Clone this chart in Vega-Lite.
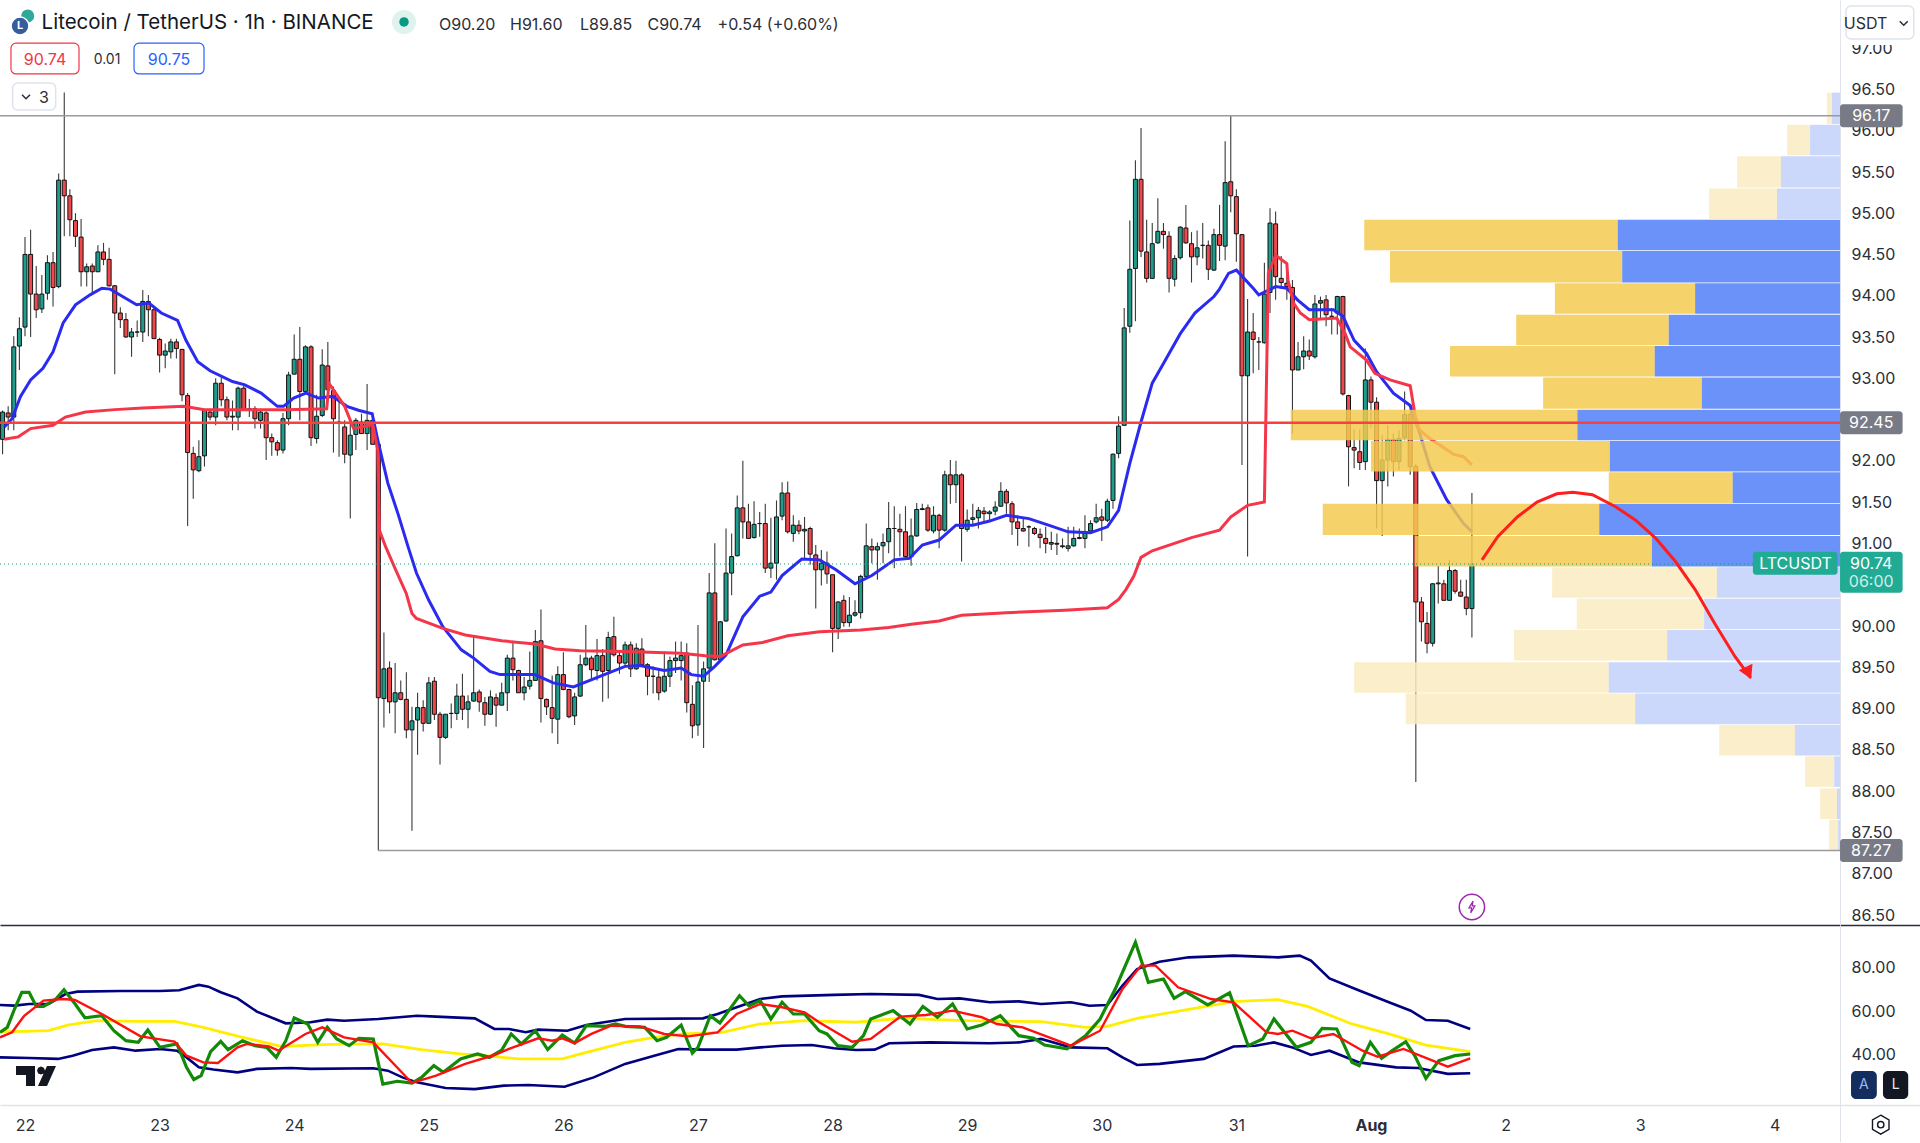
{
  "$schema": "https://vega.github.io/schema/vega-lite/v6.json",
  "description": "LTCUSDT 1h candles with volume profile and RSI pane",
  "background": "white",
  "padding": {"left": -7, "top": 0, "right": 0, "bottom": 0},
  "spacing": 0,
  "bounds": "flush",
  "config": {
    "view": {"stroke": null},
    "text": {"font": "Inter"},
    "axis": {"labelFont": "Inter", "labelFontSize": 16, "labelColor": "#2a2e39", "grid": false, "ticks": false}
  },
  "datasets": {
    "candles": [
      {"t":-4,"o":92.25,"h":92.6,"l":92.07,"c":92.58},{"t":-3,"o":92.57,"h":92.65,"l":92.36,"c":92.52},{"t":-2,"o":92.52,"h":93.5,"l":92.36,"c":93.37},{"t":-1,"o":93.38,"h":93.73,"l":93.09,"c":93.59},
      {"t":0,"o":93.61,"h":94.7,"l":93.5,"c":94.49},{"t":1,"o":94.49,"h":94.79,"l":93.49,"c":94.01},{"t":2,"o":94.01,"h":94.35,"l":93.72,"c":93.82},{"t":3,"o":93.83,"h":94.24,"l":93.78,"c":94.01},
      {"t":4,"o":94.02,"h":94.48,"l":93.94,"c":94.39},{"t":5,"o":94.39,"h":94.52,"l":93.86,"c":94.09},{"t":6,"o":94.1,"h":95.47,"l":94.08,"c":95.39},{"t":7,"o":95.39,"h":96.45,"l":94.71,"c":95.2},
      {"t":8,"o":95.2,"h":95.28,"l":94.71,"c":94.91},{"t":9,"o":94.9,"h":94.99,"l":94.58,"c":94.71},{"t":10,"o":94.7,"h":94.92,"l":94.1,"c":94.28},{"t":11,"o":94.28,"h":94.38,"l":94.1,"c":94.34},
      {"t":12,"o":94.35,"h":94.38,"l":94.02,"c":94.28},{"t":13,"o":94.28,"h":94.6,"l":94.28,"c":94.52},{"t":14,"o":94.52,"h":94.63,"l":94.36,"c":94.43},{"t":15,"o":94.43,"h":94.57,"l":94.1,"c":94.11},
      {"t":16,"o":94.11,"h":94.12,"l":93.04,"c":93.78},{"t":17,"o":93.78,"h":93.85,"l":93.6,"c":93.7},{"t":18,"o":93.7,"h":93.78,"l":93.48,"c":93.49},{"t":19,"o":93.49,"h":93.6,"l":93.25,"c":93.55},
      {"t":20,"o":93.55,"h":93.69,"l":93.49,"c":93.55},{"t":21,"o":93.55,"h":94.06,"l":93.43,"c":93.92},{"t":22,"o":93.92,"h":94.0,"l":93.5,"c":93.82},{"t":23,"o":93.82,"h":93.84,"l":93.47,"c":93.47},
      {"t":24,"o":93.46,"h":93.48,"l":93.06,"c":93.27},{"t":25,"o":93.27,"h":93.41,"l":93.11,"c":93.32},{"t":26,"o":93.31,"h":93.47,"l":93.23,"c":93.43},{"t":27,"o":93.43,"h":93.47,"l":93.23,"c":93.35},
      {"t":28,"o":93.34,"h":93.34,"l":92.71,"c":92.79},{"t":29,"o":92.78,"h":92.81,"l":91.2,"c":92.09},{"t":30,"o":92.08,"h":92.16,"l":91.53,"c":91.88},{"t":31,"o":91.87,"h":92.24,"l":91.85,"c":92.04},
      {"t":32,"o":92.05,"h":92.61,"l":91.92,"c":92.6},{"t":33,"o":92.58,"h":92.62,"l":92.48,"c":92.52},{"t":34,"o":92.52,"h":92.99,"l":92.42,"c":92.93},{"t":35,"o":92.93,"h":93.0,"l":92.65,"c":92.73},
      {"t":36,"o":92.73,"h":92.77,"l":92.48,"c":92.52},{"t":37,"o":92.53,"h":92.72,"l":92.36,"c":92.52},{"t":38,"o":92.52,"h":92.89,"l":92.36,"c":92.87},{"t":39,"o":92.87,"h":92.92,"l":92.6,"c":92.6},
      {"t":40,"o":92.6,"h":92.74,"l":92.52,"c":92.62},{"t":41,"o":92.62,"h":92.65,"l":92.38,"c":92.5},{"t":42,"o":92.48,"h":92.62,"l":92.38,"c":92.58},{"t":43,"o":92.57,"h":92.59,"l":92.0,"c":92.27},
      {"t":44,"o":92.27,"h":92.32,"l":92.05,"c":92.22},{"t":45,"o":92.21,"h":92.24,"l":92.05,"c":92.12},{"t":46,"o":92.12,"h":92.57,"l":92.08,"c":92.5},{"t":47,"o":92.5,"h":93.07,"l":92.42,"c":93.03},
      {"t":48,"o":93.04,"h":93.52,"l":93.04,"c":93.22},{"t":49,"o":93.22,"h":93.61,"l":92.48,"c":92.83},{"t":50,"o":92.83,"h":93.39,"l":92.82,"c":93.37},{"t":51,"o":93.37,"h":93.39,"l":92.17,"c":92.27},
      {"t":52,"o":92.26,"h":92.79,"l":92.2,"c":92.53},{"t":53,"o":92.54,"h":93.34,"l":92.52,"c":93.15},{"t":54,"o":93.14,"h":93.43,"l":92.83,"c":92.85},{"t":55,"o":92.84,"h":92.89,"l":92.09,"c":92.5},
      {"t":56,"o":92.46,"h":92.72,"l":92.04,"c":92.45},{"t":57,"o":92.4,"h":92.48,"l":91.96,"c":92.07},{"t":58,"o":92.06,"h":92.48,"l":91.29,"c":92.3},{"t":59,"o":92.31,"h":92.51,"l":92.12,"c":92.48},
      {"t":60,"o":92.46,"h":92.56,"l":92.32,"c":92.32},{"t":61,"o":92.32,"h":92.92,"l":92.12,"c":92.48},{"t":62,"o":92.48,"h":92.57,"l":92.19,"c":92.19},{"t":63,"o":92.19,"h":92.2,"l":87.27,"c":89.12},
      {"t":64,"o":89.11,"h":89.91,"l":88.76,"c":89.47},{"t":65,"o":89.48,"h":89.56,"l":88.93,"c":89.07},{"t":66,"o":89.07,"h":89.54,"l":88.69,"c":89.18},{"t":67,"o":89.18,"h":89.33,"l":89.09,"c":89.1},
      {"t":68,"o":89.1,"h":89.43,"l":88.63,"c":88.73},{"t":69,"o":88.73,"h":89.01,"l":87.51,"c":88.84},{"t":70,"o":88.85,"h":89.18,"l":88.43,"c":89.0},{"t":71,"o":89.0,"h":89.09,"l":88.71,"c":88.81},
      {"t":72,"o":88.81,"h":89.37,"l":88.81,"c":89.3},{"t":73,"o":89.32,"h":89.37,"l":88.85,"c":88.92},{"t":74,"o":88.92,"h":88.95,"l":88.31,"c":88.64},{"t":75,"o":88.64,"h":88.92,"l":88.62,"c":88.92},
      {"t":76,"o":88.93,"h":89.05,"l":88.75,"c":88.93},{"t":77,"o":88.93,"h":89.29,"l":88.85,"c":89.14},{"t":78,"o":89.14,"h":89.41,"l":88.85,"c":88.98},{"t":79,"o":88.98,"h":89.15,"l":88.75,"c":89.07},
      {"t":80,"o":89.08,"h":89.88,"l":89.07,"c":89.18},{"t":81,"o":89.19,"h":89.22,"l":88.95,"c":89.07},{"t":82,"o":89.06,"h":89.13,"l":88.78,"c":88.92},{"t":83,"o":88.92,"h":89.21,"l":88.91,"c":89.13},
      {"t":84,"o":89.12,"h":89.17,"l":88.77,"c":89.03},{"t":85,"o":89.03,"h":89.3,"l":89.03,"c":89.18},{"t":86,"o":89.18,"h":89.64,"l":88.96,"c":89.6},{"t":87,"o":89.6,"h":89.81,"l":89.33,"c":89.46},
      {"t":88,"o":89.45,"h":89.46,"l":89.18,"c":89.18},{"t":89,"o":89.18,"h":89.37,"l":89.09,"c":89.25},{"t":90,"o":89.26,"h":89.68,"l":89.22,"c":89.33},{"t":91,"o":89.33,"h":89.94,"l":89.33,"c":89.8},
      {"t":92,"o":89.81,"h":90.19,"l":88.82,"c":89.11},{"t":93,"o":89.1,"h":89.11,"l":88.91,"c":89.01},{"t":94,"o":89.0,"h":89.39,"l":88.69,"c":88.87},{"t":95,"o":88.86,"h":89.5,"l":88.56,"c":89.4},
      {"t":96,"o":89.4,"h":89.67,"l":89.21,"c":89.22},{"t":97,"o":89.22,"h":89.23,"l":88.87,"c":88.89},{"t":98,"o":88.9,"h":89.18,"l":88.79,"c":89.13},{"t":99,"o":89.14,"h":89.64,"l":89.13,"c":89.52},
      {"t":100,"o":89.52,"h":90.0,"l":89.5,"c":89.6},{"t":101,"o":89.6,"h":89.63,"l":89.33,"c":89.46},{"t":102,"o":89.45,"h":89.83,"l":89.33,"c":89.63},{"t":103,"o":89.63,"h":89.71,"l":89.07,"c":89.44},
      {"t":104,"o":89.45,"h":89.92,"l":89.11,"c":89.85},{"t":105,"o":89.86,"h":90.1,"l":89.62,"c":89.64},{"t":106,"o":89.63,"h":89.68,"l":89.41,"c":89.54},{"t":107,"o":89.54,"h":89.8,"l":89.5,"c":89.76},
      {"t":108,"o":89.76,"h":89.8,"l":89.37,"c":89.47},{"t":109,"o":89.47,"h":89.78,"l":89.46,"c":89.72},{"t":110,"o":89.71,"h":89.84,"l":89.5,"c":89.52},{"t":111,"o":89.52,"h":89.54,"l":89.15,"c":89.38},
      {"t":112,"o":89.38,"h":89.5,"l":89.17,"c":89.38},{"t":113,"o":89.37,"h":89.46,"l":89.09,"c":89.18},{"t":114,"o":89.2,"h":89.68,"l":89.18,"c":89.38},{"t":115,"o":89.38,"h":89.62,"l":89.25,"c":89.57},
      {"t":116,"o":89.57,"h":89.8,"l":89.42,"c":89.6},{"t":117,"o":89.57,"h":89.8,"l":89.33,"c":89.63},{"t":118,"o":89.66,"h":89.78,"l":88.94,"c":89.06},{"t":119,"o":89.04,"h":89.27,"l":88.63,"c":88.78},
      {"t":120,"o":88.79,"h":90.0,"l":88.66,"c":89.31},{"t":121,"o":89.32,"h":89.56,"l":88.51,"c":89.47},{"t":122,"o":89.48,"h":90.63,"l":89.31,"c":90.39},{"t":123,"o":90.39,"h":90.99,"l":89.57,"c":89.58},
      {"t":124,"o":89.58,"h":90.05,"l":89.57,"c":90.04},{"t":125,"o":90.05,"h":91.17,"l":90.04,"c":90.63},{"t":126,"o":90.63,"h":91.11,"l":90.36,"c":90.83},{"t":127,"o":90.84,"h":91.57,"l":90.83,"c":91.42},
      {"t":128,"o":91.42,"h":91.99,"l":91.05,"c":91.25},{"t":129,"o":91.25,"h":91.47,"l":91.05,"c":91.05},{"t":130,"o":91.06,"h":91.5,"l":91.05,"c":91.22},{"t":131,"o":91.23,"h":91.37,"l":91.07,"c":91.23},
      {"t":132,"o":91.23,"h":91.47,"l":90.63,"c":90.69},{"t":133,"o":90.69,"h":91.3,"l":90.57,"c":90.75},{"t":134,"o":90.75,"h":91.51,"l":90.55,"c":91.31},{"t":135,"o":91.32,"h":91.73,"l":91.27,"c":91.6},
      {"t":136,"o":91.6,"h":91.74,"l":91.11,"c":91.13},{"t":137,"o":91.11,"h":91.33,"l":91.01,"c":91.21},{"t":138,"o":91.21,"h":91.27,"l":91.1,"c":91.14},{"t":139,"o":91.14,"h":91.31,"l":90.79,"c":91.16},
      {"t":140,"o":91.17,"h":91.19,"l":90.73,"c":90.86},{"t":141,"o":90.85,"h":90.97,"l":90.2,"c":90.67},{"t":142,"o":90.67,"h":90.91,"l":90.48,"c":90.75},{"t":143,"o":90.75,"h":90.89,"l":90.5,"c":90.62},
      {"t":144,"o":90.61,"h":90.61,"l":89.67,"c":89.96},{"t":145,"o":89.96,"h":90.29,"l":89.83,"c":90.28},{"t":146,"o":90.3,"h":90.36,"l":89.98,"c":90.03},{"t":147,"o":90.03,"h":90.34,"l":89.98,"c":90.12},
      {"t":148,"o":90.12,"h":90.3,"l":90.1,"c":90.15},{"t":149,"o":90.15,"h":90.61,"l":90.08,"c":90.59},{"t":150,"o":90.59,"h":91.23,"l":90.59,"c":90.96},{"t":151,"o":90.95,"h":91.05,"l":90.75,"c":90.91},
      {"t":152,"o":90.91,"h":91.0,"l":90.55,"c":90.95},{"t":153,"o":90.96,"h":91.11,"l":90.75,"c":91.0},{"t":154,"o":91.01,"h":91.49,"l":90.87,"c":91.17},{"t":155,"o":91.17,"h":91.44,"l":90.69,"c":91.17},
      {"t":156,"o":91.16,"h":91.35,"l":90.83,"c":91.13},{"t":157,"o":91.13,"h":91.44,"l":90.81,"c":90.83},{"t":158,"o":90.83,"h":91.29,"l":90.72,"c":91.08},{"t":159,"o":91.08,"h":91.48,"l":91.07,"c":91.4},
      {"t":160,"o":91.4,"h":91.47,"l":91.39,"c":91.41},{"t":161,"o":91.42,"h":91.46,"l":91.13,"c":91.15},{"t":162,"o":91.14,"h":91.44,"l":91.11,"c":91.33},{"t":163,"o":91.33,"h":91.35,"l":90.93,"c":91.15},
      {"t":164,"o":91.15,"h":91.87,"l":91.13,"c":91.82},{"t":165,"o":91.82,"h":92.0,"l":91.47,"c":91.7},{"t":166,"o":91.7,"h":91.99,"l":91.48,"c":91.82},{"t":167,"o":91.82,"h":91.84,"l":90.77,"c":91.17},
      {"t":168,"o":91.16,"h":91.4,"l":91.13,"c":91.27},{"t":169,"o":91.28,"h":91.47,"l":91.2,"c":91.3},{"t":170,"o":91.3,"h":91.43,"l":91.17,"c":91.39},{"t":171,"o":91.38,"h":91.43,"l":91.24,"c":91.35},
      {"t":172,"o":91.35,"h":91.39,"l":91.27,"c":91.37},{"t":173,"o":91.38,"h":91.5,"l":91.33,"c":91.43},{"t":174,"o":91.44,"h":91.73,"l":91.43,"c":91.62},{"t":175,"o":91.62,"h":91.65,"l":91.35,"c":91.48},
      {"t":176,"o":91.47,"h":91.5,"l":91.09,"c":91.25},{"t":177,"o":91.25,"h":91.33,"l":90.96,"c":91.17},{"t":178,"o":91.17,"h":91.31,"l":91.13,"c":91.14},{"t":179,"o":91.19,"h":91.21,"l":90.95,"c":91.19},
      {"t":180,"o":91.17,"h":91.19,"l":91.09,"c":91.11},{"t":181,"o":91.1,"h":91.17,"l":90.93,"c":91.06},{"t":182,"o":91.05,"h":91.19,"l":90.87,"c":90.99},{"t":183,"o":91.0,"h":91.13,"l":90.91,"c":90.98},
      {"t":184,"o":90.99,"h":91.11,"l":90.85,"c":90.98},{"t":185,"o":90.96,"h":91.05,"l":90.93,"c":90.95},{"t":186,"o":90.93,"h":91.19,"l":90.89,"c":90.96},{"t":187,"o":90.96,"h":91.19,"l":90.95,"c":91.05},
      {"t":188,"o":91.05,"h":91.17,"l":91.04,"c":91.06},{"t":189,"o":91.05,"h":91.33,"l":90.93,"c":91.13},{"t":190,"o":91.14,"h":91.27,"l":91.13,"c":91.23},{"t":191,"o":91.25,"h":91.47,"l":91.23,"c":91.3},
      {"t":192,"o":91.31,"h":91.41,"l":91.02,"c":91.27},{"t":193,"o":91.27,"h":91.53,"l":91.25,"c":91.5},{"t":194,"o":91.51,"h":92.08,"l":91.41,"c":92.07},{"t":195,"o":92.08,"h":92.53,"l":92.02,"c":92.41},
      {"t":196,"o":92.42,"h":93.84,"l":92.42,"c":93.6},{"t":197,"o":93.62,"h":94.9,"l":93.54,"c":94.31},{"t":198,"o":94.32,"h":95.63,"l":93.68,"c":95.4},{"t":199,"o":95.4,"h":96.02,"l":94.46,"c":94.53},
      {"t":200,"o":94.52,"h":94.91,"l":94.15,"c":94.2},{"t":201,"o":94.2,"h":94.87,"l":94.2,"c":94.62},{"t":202,"o":94.63,"h":95.17,"l":94.62,"c":94.77},{"t":203,"o":94.77,"h":94.87,"l":94.56,"c":94.73},
      {"t":204,"o":94.71,"h":94.77,"l":94.03,"c":94.2},{"t":205,"o":94.19,"h":94.48,"l":94.1,"c":94.44},{"t":206,"o":94.45,"h":94.83,"l":94.43,"c":94.82},{"t":207,"o":94.81,"h":95.09,"l":94.62,"c":94.63},
      {"t":208,"o":94.62,"h":94.76,"l":94.15,"c":94.46},{"t":209,"o":94.46,"h":94.78,"l":94.36,"c":94.57},{"t":210,"o":94.6,"h":94.87,"l":94.44,"c":94.6},{"t":211,"o":94.6,"h":94.66,"l":94.18,"c":94.31},
      {"t":212,"o":94.3,"h":94.8,"l":94.29,"c":94.73},{"t":213,"o":94.73,"h":95.09,"l":94.41,"c":94.6},{"t":214,"o":94.59,"h":95.86,"l":94.42,"c":95.36},{"t":215,"o":95.37,"h":96.17,"l":95.0,"c":95.2},
      {"t":216,"o":95.19,"h":95.28,"l":94.4,"c":94.74},{"t":217,"o":94.73,"h":94.73,"l":91.94,"c":93.02},{"t":218,"o":93.02,"h":93.95,"l":90.83,"c":93.55},{"t":219,"o":93.55,"h":93.78,"l":93.05,"c":93.46},
      {"t":220,"o":93.43,"h":93.49,"l":93.09,"c":93.43},{"t":221,"o":93.42,"h":94.39,"l":93.41,"c":94.01},{"t":222,"o":94.03,"h":95.05,"l":93.78,"c":94.87},{"t":223,"o":94.86,"h":95.01,"l":93.94,"c":94.22},
      {"t":224,"o":94.2,"h":94.47,"l":94.07,"c":94.15},{"t":225,"o":94.14,"h":94.3,"l":93.94,"c":94.1},{"t":226,"o":94.09,"h":94.18,"l":92.32,"c":93.09},{"t":227,"o":93.09,"h":93.43,"l":93.09,"c":93.25},
      {"t":228,"o":93.25,"h":93.5,"l":93.1,"c":93.32},{"t":229,"o":93.32,"h":93.46,"l":93.21,"c":93.26},{"t":230,"o":93.25,"h":94.0,"l":93.23,"c":93.89},{"t":231,"o":93.9,"h":93.98,"l":93.7,"c":93.93},
      {"t":232,"o":93.94,"h":94.0,"l":93.62,"c":93.76},{"t":233,"o":93.74,"h":93.84,"l":93.52,"c":93.74},{"t":234,"o":93.78,"h":93.99,"l":93.52,"c":93.98},{"t":235,"o":93.98,"h":93.99,"l":92.78,"c":92.8},
      {"t":236,"o":92.78,"h":92.79,"l":91.68,"c":92.16},{"t":237,"o":92.15,"h":92.37,"l":91.9,"c":92.12},{"t":238,"o":92.1,"h":92.37,"l":91.88,"c":91.97},{"t":239,"o":91.98,"h":93.35,"l":91.88,"c":92.97},
      {"t":240,"o":92.97,"h":93.01,"l":92.38,"c":92.7},{"t":241,"o":92.7,"h":92.76,"l":91.17,"c":91.75},{"t":242,"o":91.75,"h":92.3,"l":91.08,"c":92.0},{"t":243,"o":92.0,"h":92.42,"l":91.68,"c":92.25},
      {"t":244,"o":92.25,"h":92.32,"l":91.8,"c":91.98},{"t":245,"o":91.98,"h":92.36,"l":91.88,"c":92.26},{"t":246,"o":92.27,"h":92.83,"l":92.24,"c":92.55},{"t":247,"o":92.55,"h":92.65,"l":91.82,"c":91.92},
      {"t":248,"o":91.92,"h":91.95,"l":88.1,"c":90.28},{"t":249,"o":90.28,"h":90.34,"l":89.8,"c":90.04},{"t":250,"o":90.02,"h":90.16,"l":89.66,"c":89.78},{"t":251,"o":89.78,"h":90.51,"l":89.74,"c":90.5},
      {"t":252,"o":90.5,"h":90.72,"l":90.26,"c":90.51},{"t":253,"o":90.5,"h":90.55,"l":90.3,"c":90.3},{"t":254,"o":90.3,"h":90.79,"l":90.3,"c":90.66},{"t":255,"o":90.66,"h":90.68,"l":90.38,"c":90.41},
      {"t":256,"o":90.4,"h":90.55,"l":90.34,"c":90.35},{"t":257,"o":90.34,"h":90.55,"l":90.12,"c":90.2},{"t":258,"o":90.2,"h":91.6,"l":89.85,"c":90.74}
    ],
    "ema": [
      {"t":-3.7,"p":92.4},{"t":-2.3,"p":92.5},{"t":-0.8,"p":92.77},{"t":1,"p":92.97},{"t":3.2,"p":93.11},{"t":5,"p":93.31},{"t":6.8,"p":93.66},{"t":9,"p":93.88},{"t":11.6,"p":94.0},{"t":13.7,"p":94.08},{"t":15.2,"p":94.07},{"t":17.4,"p":93.98},{"t":19.9,"p":93.88},{"t":22.1,"p":93.9},{"t":24.3,"p":93.78},{"t":27.2,"p":93.69},{"t":28.7,"p":93.45},{"t":30.8,"p":93.19},{"t":33,"p":93.08},{"t":37,"p":92.95},{"t":39.2,"p":92.91},{"t":42.1,"p":92.81},{"t":45,"p":92.65},{"t":46.1,"p":92.65},{"t":47.9,"p":92.75},{"t":50.1,"p":92.81},{"t":52.3,"p":92.75},{"t":54.9,"p":92.77},{"t":57.4,"p":92.65},{"t":59.6,"p":92.6},{"t":61.9,"p":92.56},{"t":62.9,"p":92.24},
      {"t":64.7,"p":91.72},{"t":66.5,"p":91.35},{"t":68.3,"p":90.95},{"t":69.8,"p":90.63},{"t":72,"p":90.3},{"t":74.5,"p":89.98},{"t":77.8,"p":89.7},{"t":80,"p":89.6},{"t":82.9,"p":89.44},{"t":84.7,"p":89.4},{"t":88,"p":89.4},{"t":90.9,"p":89.4},{"t":94.2,"p":89.3},{"t":97.8,"p":89.25},{"t":99.6,"p":89.3},{"t":103.3,"p":89.4},{"t":107,"p":89.5},{"t":109.7,"p":89.51},{"t":111.8,"p":89.48},{"t":114,"p":89.45},{"t":117,"p":89.48},{"t":118.8,"p":89.4},{"t":121,"p":89.38},{"t":123,"p":89.5},{"t":125,"p":89.64},{"t":128,"p":90.1},{"t":131,"p":90.35},{"t":133,"p":90.4},{"t":135,"p":90.6},{"t":138.5,"p":90.8},{"t":141.7,"p":90.79},{"t":144.6,"p":90.67},{"t":148,"p":90.5},{"t":151,"p":90.6},{"t":155,"p":90.79},{"t":157.7,"p":90.81},{"t":160,"p":90.97},{"t":163,"p":91.03},{"t":166,"p":91.21},{"t":169,"p":91.21},{"t":172,"p":91.26},{"t":175,"p":91.33},{"t":179,"p":91.29},{"t":182.5,"p":91.21},{"t":186,"p":91.13},{"t":190,"p":91.12},{"t":193,"p":91.19},{"t":195,"p":91.39},
      {"t":197,"p":91.96},{"t":199,"p":92.46},{"t":201,"p":92.93},{"t":203,"p":93.17},{"t":206,"p":93.53},{"t":208.6,"p":93.78},{"t":212,"p":93.98},{"t":212.9,"p":94.06},{"t":214.6,"p":94.26},{"t":216,"p":94.3},{"t":219,"p":94.08},{"t":220,"p":94.0},{"t":223,"p":94.1},{"t":225,"p":94.08},{"t":226.9,"p":93.94},{"t":229,"p":93.82},{"t":233.3,"p":93.82},{"t":235,"p":93.74},{"t":237,"p":93.45},{"t":239.2,"p":93.29},{"t":241,"p":93.07},{"t":244,"p":92.81},{"t":247,"p":92.66},{"t":248.7,"p":92.32},{"t":250.5,"p":91.92},{"t":253.5,"p":91.52},{"t":256.5,"p":91.23},{"t":258,"p":91.13}
    ],
    "vwap": [
      {"t":-3.7,"p":92.25},{"t":-1.2,"p":92.28},{"t":1,"p":92.38},{"t":5,"p":92.42},{"t":7.2,"p":92.52},{"t":10.8,"p":92.58},{"t":16,"p":92.61},{"t":21,"p":92.63},{"t":28.3,"p":92.65},{"t":32,"p":92.61},{"t":36.3,"p":92.61},{"t":46.5,"p":92.61},{"t":53.8,"p":92.62},{"t":54.2,"p":92.93},{"t":57,"p":92.65},{"t":58.6,"p":92.38},{"t":62,"p":92.43},{"t":62.9,"p":92.12},{"t":63.2,"p":91.15},{"t":64.3,"p":90.95},{"t":66.1,"p":90.67},{"t":68,"p":90.38},{"t":69,"p":90.14},{"t":69.8,"p":90.08},{"t":74.5,"p":89.96},{"t":78.5,"p":89.88},{"t":85,"p":89.81},{"t":91,"p":89.77},{"t":94.5,"p":89.71},{"t":99,"p":89.69},{"t":107,"p":89.68},{"t":117,"p":89.66},{"t":121.3,"p":89.63},{"t":124,"p":89.62},{"t":128,"p":89.76},{"t":131.5,"p":89.79},{"t":136,"p":89.87},{"t":141.7,"p":89.92},{"t":149,"p":89.94},{"t":154,"p":89.97},{"t":158,"p":90.01},{"t":163,"p":90.05},{"t":167,"p":90.12},{"t":175,"p":90.15},{"t":185.4,"p":90.18},{"t":193,"p":90.21},{"t":195,"p":90.31},{"t":196.3,"p":90.43},{"t":197.7,"p":90.59},{"t":199,"p":90.82},{"t":201,"p":90.9},{"t":208,"p":91.06},{"t":213,"p":91.15},{"t":215,"p":91.31},{"t":218,"p":91.45},{"t":221,"p":91.49},{"t":221.7,"p":94.26},{"t":223,"p":94.48},{"t":225,"p":94.38},{"t":225.2,"p":94.18},{"t":226.2,"p":93.9},{"t":227.4,"p":93.78},{"t":229,"p":93.7},{"t":233.9,"p":93.72},{"t":235.4,"p":93.53},{"t":236.3,"p":93.37},{"t":239.2,"p":93.21},{"t":240.7,"p":93.05},{"t":243.4,"p":92.97},{"t":247,"p":92.9},{"t":247.9,"p":92.53},{"t":248.7,"p":92.36},{"t":250.5,"p":92.26},{"t":252.3,"p":92.18},{"t":254.7,"p":92.07},{"t":256.5,"p":92.04},{"t":258,"p":91.94}
    ],
    "profile": [
      {"lo":87.27,"hi":87.64,"x0":321.7,"x1":323.3,"zone":"up-out"},{"lo":87.27,"hi":87.64,"x0":323.3,"x1":323.64,"zone":"down-out"},
      {"lo":87.65,"hi":88.02,"x0":320.1,"x1":323.1,"zone":"up-out"},{"lo":87.65,"hi":88.02,"x0":323.1,"x1":323.64,"zone":"down-out"},
      {"lo":88.04,"hi":88.41,"x0":317.4,"x1":322.6,"zone":"up-out"},{"lo":88.04,"hi":88.41,"x0":322.6,"x1":323.64,"zone":"down-out"},
      {"lo":88.42,"hi":88.79,"x0":302.1,"x1":315.6,"zone":"up-out"},{"lo":88.42,"hi":88.79,"x0":315.6,"x1":323.64,"zone":"down-out"},
      {"lo":88.8,"hi":89.17,"x0":246.2,"x1":287.1,"zone":"up-out"},{"lo":88.8,"hi":89.17,"x0":287.1,"x1":323.64,"zone":"down-out"},
      {"lo":89.18,"hi":89.55,"x0":237.0,"x1":282.4,"zone":"up-out"},{"lo":89.18,"hi":89.55,"x0":282.4,"x1":323.64,"zone":"down-out"},
      {"lo":89.57,"hi":89.94,"x0":265.5,"x1":292.8,"zone":"up-out"},{"lo":89.57,"hi":89.94,"x0":292.8,"x1":323.64,"zone":"down-out"},
      {"lo":89.95,"hi":90.32,"x0":276.7,"x1":299.4,"zone":"up-out"},{"lo":89.95,"hi":90.32,"x0":299.4,"x1":323.64,"zone":"down-out"},
      {"lo":90.33,"hi":90.7,"x0":272.3,"x1":301.7,"zone":"up-out"},{"lo":90.33,"hi":90.7,"x0":301.7,"x1":323.64,"zone":"down-out"},
      {"lo":90.71,"hi":91.08,"x0":247.8,"x1":290.1,"zone":"up-in"},{"lo":90.71,"hi":91.08,"x0":290.1,"x1":323.64,"zone":"down-in"},
      {"lo":91.09,"hi":91.47,"x0":231.4,"x1":280.7,"zone":"up-in"},{"lo":91.09,"hi":91.47,"x0":280.7,"x1":323.64,"zone":"down-in"},
      {"lo":91.48,"hi":91.85,"x0":282.4,"x1":304.5,"zone":"up-in"},{"lo":91.48,"hi":91.85,"x0":304.5,"x1":323.64,"zone":"down-in"},
      {"lo":91.86,"hi":92.23,"x0":240.0,"x1":282.6,"zone":"up-in"},{"lo":91.86,"hi":92.23,"x0":282.6,"x1":323.64,"zone":"down-in"},
      {"lo":92.24,"hi":92.61,"x0":225.7,"x1":276.8,"zone":"up-in"},{"lo":92.24,"hi":92.61,"x0":276.8,"x1":323.64,"zone":"down-in"},
      {"lo":92.62,"hi":93.0,"x0":270.7,"x1":299.0,"zone":"up-in"},{"lo":92.62,"hi":93.0,"x0":299.0,"x1":323.64,"zone":"down-in"},
      {"lo":93.01,"hi":93.38,"x0":254.1,"x1":290.6,"zone":"up-in"},{"lo":93.01,"hi":93.38,"x0":290.6,"x1":323.64,"zone":"down-in"},
      {"lo":93.39,"hi":93.76,"x0":265.9,"x1":293.1,"zone":"up-in"},{"lo":93.39,"hi":93.76,"x0":293.1,"x1":323.64,"zone":"down-in"},
      {"lo":93.77,"hi":94.14,"x0":272.8,"x1":297.8,"zone":"up-in"},{"lo":93.77,"hi":94.14,"x0":297.8,"x1":323.64,"zone":"down-in"},
      {"lo":94.15,"hi":94.53,"x0":243.4,"x1":284.8,"zone":"up-in"},{"lo":94.15,"hi":94.53,"x0":284.8,"x1":323.64,"zone":"down-in"},
      {"lo":94.54,"hi":94.91,"x0":238.8,"x1":284.0,"zone":"up-in"},{"lo":94.54,"hi":94.91,"x0":284.0,"x1":323.64,"zone":"down-in"},
      {"lo":94.92,"hi":95.29,"x0":300.3,"x1":312.4,"zone":"up-out"},{"lo":94.92,"hi":95.29,"x0":312.4,"x1":323.64,"zone":"down-out"},
      {"lo":95.3,"hi":95.68,"x0":305.3,"x1":313.1,"zone":"up-out"},{"lo":95.3,"hi":95.68,"x0":313.1,"x1":323.64,"zone":"down-out"},
      {"lo":95.69,"hi":96.06,"x0":314.2,"x1":318.3,"zone":"up-out"},{"lo":95.69,"hi":96.06,"x0":318.3,"x1":323.64,"zone":"down-out"},
      {"lo":96.07,"hi":96.45,"x0":321.3,"x1":322.2,"zone":"up-out"},{"lo":96.07,"hi":96.45,"x0":322.2,"x1":323.64,"zone":"down-out"}
    ],
    "forecast": [
      {"t":259.8,"p":90.79},{"t":262.6,"p":91.07},{"t":266.1,"p":91.31},{"t":269.6,"p":91.49},{"t":273.15,"p":91.59},{"t":276,"p":91.61},{"t":279.5,"p":91.58},{"t":283.7,"p":91.43},{"t":287.2,"p":91.27},{"t":290.8,"p":91.05},{"t":294.3,"p":90.77},{"t":297.8,"p":90.43},{"t":301.3,"p":90.02},{"t":304.9,"p":89.62},{"t":307.7,"p":89.36}
    ],
    "rsi": [
      {"t":-4.46,"v":49.75},{"t":-3.16,"v":52.05},{"t":-1.87,"v":60.5},{"t":-0.57,"v":68.2},{"t":0.73,"v":68.2},{"t":2.02,"v":61.7},{"t":3.3,"v":61.7},{"t":5.5,"v":65.1},{"t":6.95,"v":69.4},{"t":8.94,"v":62.8},{"t":10.7,"v":56.4},{"t":13.7,"v":57.4},{"t":15.85,"v":50.5},{"t":18,"v":45.9},{"t":20.2,"v":45.15},{"t":21.9,"v":50.8},{"t":24.06,"v":42.85},{"t":27.1,"v":44.4},{"t":28.8,"v":33.6},{"t":30.1,"v":28},{"t":31.4,"v":29.8},{"t":33.1,"v":40.85},{"t":34.9,"v":45.6},{"t":36.2,"v":41.8},{"t":38.8,"v":45.9},{"t":41,"v":43.6},{"t":43.1,"v":42.85},{"t":44.8,"v":38.2},{"t":46.5,"v":45.9},{"t":48,"v":56.4},{"t":50.4,"v":53.6},{"t":52.2,"v":45.15},{"t":53.9,"v":52.05},{"t":55.6,"v":46.7},{"t":57.8,"v":43.6},{"t":59.5,"v":47},{"t":62.1,"v":46.7},{"t":63.8,"v":25.9},{"t":66.4,"v":27.2},{"t":69,"v":26.4},{"t":70.7,"v":29},{"t":72.9,"v":34.4},{"t":74.6,"v":31.3},{"t":77.65,"v":37.5},{"t":80.7,"v":39.8},{"t":82.8,"v":38.2},{"t":85,"v":41.6},{"t":86.7,"v":49},{"t":88.5,"v":44.4},{"t":91,"v":50.5},{"t":93.2,"v":41.8},{"t":95.8,"v":48.5},{"t":98,"v":44.8},{"t":100.1,"v":52.8},{"t":103.6,"v":52.5},{"t":105.3,"v":53.6},{"t":107,"v":52.5},{"t":110.5,"v":52.05},{"t":112.7,"v":45.9},{"t":114.4,"v":47.45},{"t":117,"v":53.1},{"t":119,"v":40.2},{"t":120,"v":42.85},{"t":122.2,"v":57.4},{"t":123.9,"v":54.05},{"t":127.4,"v":66.65},{"t":129.1,"v":62},{"t":131.1,"v":64.35},{"t":133,"v":55.9},{"t":135,"v":63.6},{"t":137,"v":58.2},{"t":139,"v":58.2},{"t":141.6,"v":50.5},{"t":143,"v":49},{"t":144.9,"v":43.6},{"t":147.5,"v":42.85},{"t":149.5,"v":48.2},{"t":150.8,"v":55.9},{"t":154.8,"v":59.75},{"t":157.8,"v":53.6},{"t":160.1,"v":61.7},{"t":162.7,"v":56.7},{"t":165.4,"v":62.8},{"t":168,"v":51.3},{"t":170.6,"v":53.1},{"t":173.9,"v":57.4},{"t":177.2,"v":48.2},{"t":179.9,"v":47},{"t":181.8,"v":43.9},{"t":185.8,"v":42.1},{"t":189.1,"v":48.2},{"t":191.7,"v":55.9},{"t":194.4,"v":69.7},{"t":198,"v":91.2},{"t":200.3,"v":72.8},{"t":203,"v":74.3},{"t":204.9,"v":65.4},{"t":206.9,"v":68.5},{"t":210.9,"v":62.35},{"t":214.8,"v":67.9},{"t":218.1,"v":43.6},{"t":220.7,"v":46.7},{"t":222.7,"v":55.9},{"t":226.7,"v":42.85},{"t":229.3,"v":45.15},{"t":231.3,"v":51.6},{"t":233.9,"v":51.3},{"t":236.6,"v":35.9},{"t":237.9,"v":34.4},{"t":239.9,"v":45.15},{"t":241.9,"v":37.8},{"t":243.8,"v":41.3},{"t":246.2,"v":45.45},{"t":247.8,"v":39},{"t":249.8,"v":28.55},{"t":252.1,"v":36.7},{"t":255,"v":39},{"t":257.7,"v":39.75}
    ],
    "signal": [
      {"t":-4.46,"v":47.45},{"t":-2.3,"v":49.75},{"t":-0.14,"v":57.4},{"t":3.3,"v":64.35},{"t":6.8,"v":65.1},{"t":8.9,"v":64.65},{"t":13.7,"v":58.2},{"t":20.6,"v":47.9},{"t":26.66,"v":45.45},{"t":28.8,"v":39},{"t":31.8,"v":35.9},{"t":34.4,"v":35.6},{"t":37.9,"v":42.8},{"t":39.6,"v":44.4},{"t":43.5,"v":43.3},{"t":45.2,"v":41.3},{"t":50,"v":49},{"t":53,"v":52.05},{"t":56.9,"v":47.45},{"t":62.1,"v":45.15},{"t":69,"v":26.4},{"t":73.3,"v":29.8},{"t":78.5,"v":35.2},{"t":83.7,"v":39.3},{"t":86.3,"v":42.1},{"t":91.5,"v":47},{"t":94,"v":45.9},{"t":95.8,"v":47},{"t":98,"v":44.8},{"t":101,"v":49},{"t":104.5,"v":52.8},{"t":109.6,"v":52.5},{"t":114,"v":49},{"t":118.3,"v":47.9},{"t":123.5,"v":49.75},{"t":126.9,"v":58.2},{"t":131.1,"v":62.8},{"t":135,"v":61.3},{"t":139,"v":59},{"t":141.6,"v":54.4},{"t":147.5,"v":45.45},{"t":150.8,"v":46.7},{"t":156.1,"v":57},{"t":160.7,"v":57.75},{"t":165.4,"v":59.75},{"t":170.6,"v":56.7},{"t":173.3,"v":53.6},{"t":177.9,"v":52.05},{"t":186.5,"v":43.6},{"t":191.7,"v":50.5},{"t":195.7,"v":69.7},{"t":199,"v":80.5},{"t":201.6,"v":80.5},{"t":205.6,"v":70.5},{"t":211.5,"v":65.1},{"t":215.5,"v":63.6},{"t":221.4,"v":49.75},{"t":223.4,"v":49},{"t":226,"v":50.5},{"t":229.3,"v":47},{"t":233.3,"v":49},{"t":238.5,"v":41.3},{"t":241.2,"v":38.5},{"t":245.8,"v":42.1},{"t":253.7,"v":33.9},{"t":257.7,"v":37.8}
    ],
    "rsiMa": [
      {"t":-4.46,"v":50.06},{"t":-0.14,"v":50.2},{"t":4.2,"v":50.5},{"t":7.6,"v":53.1},{"t":12.8,"v":55.1},{"t":19.74,"v":54.8},{"t":26.66,"v":54.8},{"t":31.8,"v":52.05},{"t":38.8,"v":47.45},{"t":45.7,"v":43.3},{"t":54.3,"v":44.2},{"t":63.8,"v":44.4},{"t":70.7,"v":41.8},{"t":77.65,"v":39.8},{"t":82,"v":39},{"t":88,"v":37.5},{"t":95.8,"v":37.5},{"t":100.1,"v":40.5},{"t":107,"v":45.1},{"t":112.2,"v":47.45},{"t":117.4,"v":49},{"t":124.3,"v":49.75},{"t":131.1,"v":53.6},{"t":139,"v":55.1},{"t":148.2,"v":54.4},{"t":156.1,"v":56.2},{"t":168,"v":55.1},{"t":181.2,"v":54.7},{"t":189.1,"v":52.05},{"t":193,"v":52.5},{"t":198.3,"v":56.2},{"t":206.2,"v":59.7},{"t":215.5,"v":63.9},{"t":223.4,"v":64.8},{"t":228.7,"v":61.7},{"t":236.6,"v":53.6},{"t":243.2,"v":49},{"t":249.8,"v":43.9},{"t":257.7,"v":40.85}
    ],
    "upperBand": [
      {"t":-4.46,"v":62.35},{"t":-1.86,"v":62.04},{"t":0.73,"v":62.81},{"t":4.2,"v":62.81},{"t":7.21,"v":67.4},{"t":9.37,"v":68.5},{"t":17.15,"v":68.8},{"t":24.06,"v":68.8},{"t":27.5,"v":69.1},{"t":31,"v":71.6},{"t":32.7,"v":70.8},{"t":34.9,"v":68.2},{"t":37.9,"v":65.4},{"t":41.35,"v":59.3},{"t":46.5,"v":53.9},{"t":50.9,"v":54.4},{"t":53.9,"v":55.6},{"t":56.9,"v":55.1},{"t":63,"v":55.9},{"t":69.9,"v":57.4},{"t":73.3,"v":57},{"t":80.2,"v":56.2},{"t":83.7,"v":51.3},{"t":86.3,"v":51.3},{"t":89.3,"v":49.8},{"t":91.5,"v":51},{"t":96.7,"v":50.5},{"t":100.1,"v":53.1},{"t":107,"v":55.9},{"t":120.9,"v":56.2},{"t":123.5,"v":58.2},{"t":126.9,"v":61.3},{"t":131.1,"v":65.1},{"t":135,"v":66.3},{"t":144.3,"v":67},{"t":150.8,"v":67.4},{"t":159.4,"v":67},{"t":162.7,"v":65.1},{"t":166.7,"v":65.4},{"t":172,"v":63.6},{"t":177.2,"v":64},{"t":181.2,"v":62.8},{"t":186.5,"v":63.6},{"t":189.8,"v":62},{"t":193,"v":62.35},{"t":195.7,"v":71.3},{"t":198.3,"v":78.9},{"t":202.3,"v":82.3},{"t":207.5,"v":84.3},{"t":215.5,"v":85.1},{"t":223.4,"v":84.3},{"t":227.3,"v":85.1},{"t":229.3,"v":82.8},{"t":232.6,"v":74.6},{"t":237.9,"v":69},{"t":243.2,"v":63.6},{"t":247.1,"v":59.7},{"t":249.8,"v":55.4},{"t":253.7,"v":55.1},{"t":257.7,"v":51.3}
    ],
    "lowerBand": [
      {"t":-4.46,"v":38.2},{"t":0.73,"v":37.9},{"t":5.9,"v":37.5},{"t":8.5,"v":39},{"t":11.96,"v":41.6},{"t":15.85,"v":42.8},{"t":19.74,"v":41.3},{"t":24.06,"v":42.1},{"t":27.1,"v":41.3},{"t":28.8,"v":38.2},{"t":31,"v":33.6},{"t":33.6,"v":32.6},{"t":37.9,"v":31.3},{"t":41.35,"v":32.9},{"t":47.4,"v":33.3},{"t":50.9,"v":32.9},{"t":62.1,"v":33.2},{"t":64.7,"v":32.1},{"t":67.3,"v":29},{"t":69.9,"v":26.7},{"t":75,"v":24.1},{"t":80.2,"v":23.6},{"t":85.4,"v":25.2},{"t":89.75,"v":25.5},{"t":96.2,"v":24.7},{"t":101.4,"v":29},{"t":107,"v":35.2},{"t":112.2,"v":39},{"t":116.5,"v":42.1},{"t":120.9,"v":41.8},{"t":126.9,"v":41.8},{"t":131.1,"v":42.8},{"t":135,"v":43.6},{"t":140.3,"v":43.9},{"t":144.25,"v":42.4},{"t":148.2,"v":41.6},{"t":151.5,"v":41.8},{"t":154.1,"v":44.7},{"t":161.4,"v":45.1},{"t":172,"v":44.7},{"t":177.2,"v":45.1},{"t":181.2,"v":46.7},{"t":186.5,"v":42.8},{"t":193,"v":42.4},{"t":195.7,"v":38.2},{"t":198.3,"v":34.7},{"t":202.3,"v":35.2},{"t":210.2,"v":37.5},{"t":215.5,"v":43.2},{"t":219.4,"v":43.6},{"t":222.7,"v":45.1},{"t":226,"v":42.8},{"t":229.3,"v":39.3},{"t":232.6,"v":41.3},{"t":237.9,"v":35.9},{"t":244.5,"v":33.6},{"t":248.4,"v":33.3},{"t":253.7,"v":30.6},{"t":257.7,"v":30.9}
    ]
  },
  "vconcat": [
    {
      "width": 1920,
      "height": 925,
      "encoding": {
        "x": {
          "field": "t",
          "type": "quantitative",
          "title": null,
          "scale": {"domain": [-4.458, 337.9], "nice": false, "zero": false, "padding": 0},
          "axis": {"labels": false, "domainColor": "#2a2e39", "domainWidth": 1.5}
        },
        "y": {
          "field": "p",
          "type": "quantitative",
          "title": null,
          "scale": {"domain": [86.367, 97.572], "nice": false, "zero": false, "padding": 0},
          "axis": {
            "orient": "right",
            "offset": -80,
            "values": [86.5,87,87.5,88,88.5,89,89.5,90,90.5,91,91.5,92,92.5,93,93.5,94,94.5,95,95.5,96,96.5,97],
            "format": ".2f",
            "labelPadding": 11,
            "labelOffset": 1,
            "domainColor": "#e0e3eb",
            "domainWidth": 1
          }
        }
      },
      "layer": [
        {
          "data": {"name": "candles"},
          "mark": {"type": "rule", "color": "#3a3a3a", "strokeWidth": 1.1, "clip": true},
          "encoding": {"y": {"field": "l", "type": "quantitative", "title": null}, "y2": {"field": "h"}}
        },
        {
          "data": {"name": "candles"},
          "mark": {"type": "bar", "size": 4, "orient": "vertical", "stroke": "#111111", "strokeWidth": 1, "clip": true},
          "encoding": {
            "y": {"field": "o", "type": "quantitative", "title": null},
            "y2": {"field": "c"},
            "color": {"condition": {"test": "datum.c >= datum.o", "value": "#1f9d8c"}, "value": "#f0474a"}
          }
        },
        {"data": {"name": "ema"}, "mark": {"type": "line", "color": "#2a2af0", "strokeWidth": 3}},
        {"data": {"name": "vwap"}, "mark": {"type": "line", "color": "#f5364a", "strokeWidth": 3}},
        {
          "data": {"name": "profile"},
          "mark": {"type": "rect", "opacity": 0.85},
          "encoding": {
            "x": {"field": "x0", "type": "quantitative", "title": null},
            "x2": {"field": "x1"},
            "y": {"field": "lo", "type": "quantitative", "title": null},
            "y2": {"field": "hi"},
            "color": {
              "field": "zone",
              "type": "nominal",
              "legend": null,
              "scale": {"domain": ["up-in","down-in","up-out","down-out"], "range": ["#f5ca50","#507ff8","#faebc2","#c2d1fa"]}
            }
          }
        },
        {
          "data": {"values": [{"p": 90.74, "t": -4.46, "t2": 323.64}]},
          "mark": {"type": "rule", "color": "#089981", "strokeWidth": 1, "strokeDash": [1, 3]},
          "encoding": {"x2": {"field": "t2"}}
        },
        {
          "data": {"values": [{"p": 96.17, "t": -4.46, "t2": 323.64}, {"p": 87.27, "t": 63, "t2": 323.64}]},
          "mark": {"type": "rule", "color": "#9a9aa0", "strokeWidth": 1.5},
          "encoding": {"x2": {"field": "t2"}}
        },
        {
          "data": {"values": [{"p": 92.45, "t": -4.46, "t2": 323.64}]},
          "mark": {"type": "rule", "color": "#f7403f", "strokeWidth": 2.5},
          "encoding": {"x2": {"field": "t2"}}
        },
        {"data": {"name": "forecast"}, "mark": {"type": "line", "color": "#ff1e1e", "strokeWidth": 3}},
        {
          "data": {"values": [{"t": 307.3, "p": 89.42}]},
          "mark": {"type": "point", "shape": "triangle-down", "filled": true, "color": "#ff1e1e", "opacity": 1, "size": 230, "angle": -25}
        },
        {
          "data": {"values": [{"t": 323.8, "t2": 338, "p": 97.027, "p2": 97.572}]},
          "mark": {"type": "rect", "color": "white"},
          "encoding": {"x2": {"field": "t2"}, "y2": {"field": "p2"}}
        },
        {
          "data": {"values": [{"t": 323.64, "t2": 334.8, "p": 96.17}, {"t": 323.64, "t2": 334.8, "p": 92.45}, {"t": 323.64, "t2": 334.8, "p": 87.27}]},
          "mark": {"type": "bar", "orient": "horizontal", "size": 23, "color": "#787b86", "cornerRadius": 3},
          "encoding": {"x2": {"field": "t2"}}
        },
        {
          "data": {"values": [{"t": 323.64, "t2": 334.8, "p": 90.64}]},
          "mark": {"type": "bar", "orient": "horizontal", "size": 41, "color": "#22ab94", "cornerRadius": 3},
          "encoding": {"x2": {"field": "t2"}}
        },
        {
          "data": {"values": [{"t": 308.1, "t2": 323.2, "p": 90.75}]},
          "mark": {"type": "bar", "orient": "horizontal", "size": 23, "color": "#22ab94", "cornerRadius": 3},
          "encoding": {"x2": {"field": "t2"}}
        },
        {
          "data": {"values": [{"t": 329.2, "p": 96.165, "label": "96.17"}, {"t": 329.2, "p": 92.445, "label": "92.45"}, {"t": 329.2, "p": 87.265, "label": "87.27"}, {"t": 329.2, "p": 90.74, "label": "90.74"}, {"t": 315.7, "p": 90.74, "label": "LTCUSDT"}]},
          "mark": {"type": "text", "color": "white", "fontSize": 16, "align": "center", "baseline": "middle"},
          "encoding": {"text": {"field": "label"}}
        },
        {
          "data": {"values": [{"t": 329.2, "p": 90.52, "label": "06:00"}]},
          "mark": {"type": "text", "color": "#cfeee8", "fontSize": 16, "align": "center", "baseline": "middle"},
          "encoding": {"text": {"field": "label"}}
        },
        {
          "data": {"values": [{"t": -2.5, "t2": 9.63, "p": 96.676, "p2": 97.05}]},
          "mark": {"type": "rect", "fill": "white", "stroke": "#f23645", "strokeWidth": 1.2, "cornerRadius": 5},
          "encoding": {"x2": {"field": "t2"}, "y2": {"field": "p2"}}
        },
        {
          "data": {"values": [{"t": 19.44, "t2": 31.92, "p": 96.676, "p2": 97.05}]},
          "mark": {"type": "rect", "fill": "white", "stroke": "#2962ff", "strokeWidth": 1.2, "cornerRadius": 5},
          "encoding": {"x2": {"field": "t2"}, "y2": {"field": "p2"}}
        },
        {
          "data": {"values": [{"t": -2.21, "t2": 5.47, "p": 96.24, "p2": 96.567}, {"t": 324.7, "t2": 336.8, "p": 97.1, "p2": 97.5}]},
          "mark": {"type": "rect", "fill": "white", "stroke": "#e0e3eb", "strokeWidth": 1.5, "cornerRadius": 5},
          "encoding": {"x2": {"field": "t2"}, "y2": {"field": "p2"}}
        },
        {
          "data": {"values": [{"t": 3.57, "p": 96.845, "label": "90.74"}]},
          "mark": {"type": "text", "color": "#f23645", "fontSize": 16, "align": "center", "baseline": "middle"},
          "encoding": {"text": {"field": "label"}}
        },
        {
          "data": {"values": [{"t": 25.68, "p": 96.845, "label": "90.75"}]},
          "mark": {"type": "text", "color": "#2962ff", "fontSize": 16, "align": "center", "baseline": "middle"},
          "encoding": {"text": {"field": "label"}}
        },
        {
          "data": {"values": [{"t": 14.62, "p": 96.845, "label": "0.01"}]},
          "mark": {"type": "text", "color": "#2a2e39", "fontSize": 14, "align": "center", "baseline": "middle"},
          "encoding": {"text": {"field": "label"}}
        },
        {
          "data": {"values": [{"t": 3.39, "p": 96.39, "label": "3"}, {"t": 328.2, "p": 97.28, "label": "USDT"}]},
          "mark": {"type": "text", "color": "#2a2e39", "fontSize": 16, "align": "center", "baseline": "middle"},
          "encoding": {"text": {"field": "label"}}
        },
        {
          "data": {"values": [{"t": 0.18, "p": 96.4}, {"t": 335.0, "p": 97.29}]},
          "mark": {"type": "point", "shape": "M-1,-0.5L0,0.5L1,-0.5", "color": "#2a2e39", "opacity": 1, "size": 64, "strokeWidth": 1.5}
        },
        {
          "data": {"values": [{"t": 2.96, "p": 97.29, "label": "Litecoin / TetherUS · 1h · BINANCE"}]},
          "mark": {"type": "text", "color": "#131722", "fontSize": 20.5, "align": "left", "baseline": "middle"},
          "encoding": {"text": {"field": "label"}}
        },
        {
          "data": {"values": [{"t": 73.82, "p": 97.265, "label": "O90.20"}, {"t": 86.48, "p": 97.265, "label": "H91.60"}, {"t": 98.96, "p": 97.265, "label": "L89.85"}, {"t": 111.0, "p": 97.265, "label": "C90.74"}, {"t": 123.5, "p": 97.265, "label": "+0.54 (+0.60%)"}]},
          "mark": {"type": "text", "color": "#2a2e39", "fontSize": 16, "align": "left", "baseline": "middle"},
          "encoding": {"text": {"field": "label"}}
        },
        {
          "data": {"values": [{"t": 67.58, "p": 97.306}]},
          "mark": {"type": "point", "shape": "circle", "filled": true, "color": "#dff2ee", "opacity": 1, "size": 576}
        },
        {
          "data": {"values": [{"t": 67.58, "p": 97.306}]},
          "mark": {"type": "point", "shape": "circle", "filled": true, "color": "#089981", "opacity": 1, "size": 90}
        },
        {
          "data": {"values": [{"t": 0.48, "p": 97.379}]},
          "mark": {"type": "point", "shape": "circle", "filled": true, "color": "#2fa89a", "opacity": 1, "size": 170}
        },
        {
          "data": {"values": [{"t": -0.89, "p": 97.257}]},
          "mark": {"type": "point", "shape": "circle", "filled": true, "color": "#345d9d", "stroke": "white", "strokeWidth": 1.5, "opacity": 1, "size": 320}
        },
        {
          "data": {"values": [{"t": -0.89, "p": 97.257, "label": "L"}]},
          "mark": {"type": "text", "color": "white", "fontSize": 11, "fontWeight": "bold", "align": "center", "baseline": "middle"},
          "encoding": {"text": {"field": "label"}}
        },
        {
          "data": {"values": [{"t": 258, "p": 86.585}]},
          "mark": {"type": "point", "shape": "circle", "color": "#9c27b0", "opacity": 1, "size": 640, "strokeWidth": 1.5}
        },
        {
          "data": {"values": [{"t": 258, "p": 86.585}]},
          "mark": {"type": "point", "shape": "M0.2,-1L-0.5,0.15L-0.05,0.15L-0.2,1L0.5,-0.2L0.05,-0.2Z", "color": "#9c27b0", "opacity": 1, "size": 140, "strokeWidth": 1.2}
        }
      ]
    },
    {
      "width": 1920,
      "height": 217,
      "encoding": {
        "x": {
          "field": "t",
          "type": "quantitative",
          "title": null,
          "scale": {"domain": [-4.458, 337.9], "nice": false, "zero": false, "padding": 0},
          "axis": {
            "offset": -37,
            "values": [0,24,48,72,96,120,144,168,192,216,240,264,288,312],
            "labelExpr": "datum.value == 240 ? 'Aug' : datum.value < 240 ? '' + (22 + datum.value / 24) : '' + (1 + (datum.value - 240) / 24)",
            "labelFontWeight": {"condition": {"test": "datum.value == 240", "value": "bold"}, "value": "normal"},
            "labelPadding": 12,
            "domainColor": "#e0e3eb",
            "domainWidth": 1.5
          }
        },
        "y": {
          "field": "v",
          "type": "quantitative",
          "title": null,
          "scale": {"domain": [-0.78, 99.2], "nice": false, "zero": false, "padding": 0},
          "axis": {
            "orient": "right",
            "offset": -80,
            "values": [40, 60, 80],
            "format": ".2f",
            "labelPadding": 11,
            "labelOffset": 1,
            "domainColor": "#e0e3eb",
            "domainWidth": 1
          }
        }
      },
      "layer": [
        {"data": {"name": "upperBand"}, "mark": {"type": "line", "color": "#000080", "strokeWidth": 2.6}},
        {"data": {"name": "lowerBand"}, "mark": {"type": "line", "color": "#000080", "strokeWidth": 2.6}},
        {"data": {"name": "rsiMa"}, "mark": {"type": "line", "color": "#ffee00", "strokeWidth": 2.8}},
        {"data": {"name": "rsi"}, "mark": {"type": "line", "color": "#128a07", "strokeWidth": 3.2}},
        {"data": {"name": "signal"}, "mark": {"type": "line", "color": "#ff1010", "strokeWidth": 2.4}},
        {
          "data": {"values": [{"t": 1.96, "v": 29.63}]},
          "mark": {
            "type": "point",
            "shape": "M-1,-0.5H-0.05V0.5H-0.5V-0.05H-1ZM0.05,-0.27L0.11,-0.41L0.25,-0.47L0.39,-0.41L0.45,-0.27L0.39,-0.13L0.25,-0.07L0.11,-0.13ZM0.55,-0.5H1L0.55,0.5H0.1Z",
            "filled": true,
            "color": "#131722",
            "opacity": 1,
            "size": 1600
          }
        },
        {
          "data": {"values": [{"t": 325.6, "t2": 330.2, "v": 19.0, "v2": 31.9}]},
          "mark": {"type": "rect", "color": "#132e5e", "cornerRadius": 5},
          "encoding": {"x2": {"field": "t2"}, "y2": {"field": "v2"}}
        },
        {
          "data": {"values": [{"t": 331.3, "t2": 335.8, "v": 19.0, "v2": 31.9}]},
          "mark": {"type": "rect", "color": "#131722", "cornerRadius": 5},
          "encoding": {"x2": {"field": "t2"}, "y2": {"field": "v2"}}
        },
        {
          "data": {"values": [{"t": 327.9, "v": 25.5, "label": "A"}]},
          "mark": {"type": "text", "color": "#9db8ee", "fontSize": 14, "align": "center", "baseline": "middle"},
          "encoding": {"text": {"field": "label"}}
        },
        {
          "data": {"values": [{"t": 333.55, "v": 25.5, "label": "L"}]},
          "mark": {"type": "text", "color": "#e8e8ea", "fontSize": 14, "align": "center", "baseline": "middle"},
          "encoding": {"text": {"field": "label"}}
        },
        {
          "data": {"values": [{"t": 330.9, "v": 7.19}]},
          "mark": {"type": "point", "shape": "M0,-1L0.87,-0.5L0.87,0.5L0,1L-0.87,0.5L-0.87,-0.5Z", "color": "#131722", "opacity": 1, "size": 360, "strokeWidth": 1.4}
        },
        {
          "data": {"values": [{"t": 330.9, "v": 7.19}]},
          "mark": {"type": "point", "shape": "circle", "color": "#131722", "opacity": 1, "size": 40, "strokeWidth": 1.4}
        }
      ]
    }
  ]
}
